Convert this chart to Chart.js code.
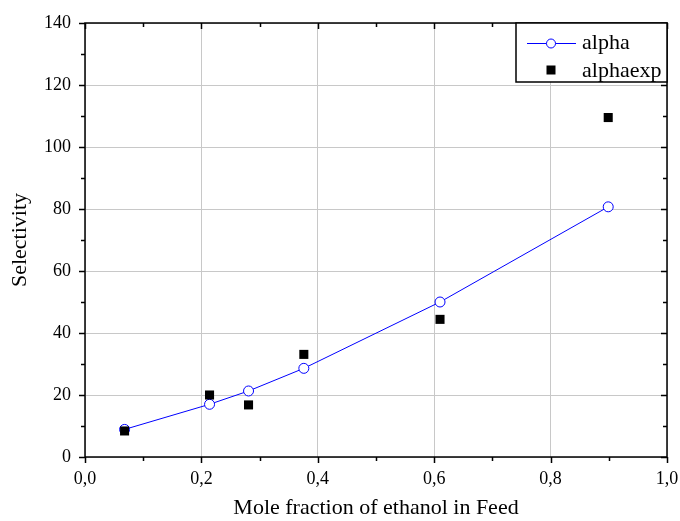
<!DOCTYPE html>
<html>
<head>
<meta charset="utf-8">
<script src="https://cdn.jsdelivr.net/npm/chart.js@4"></script>
<style>
  html, body { margin: 0; padding: 0; background: #fff; }
  #wrap { width: 680px; height: 521px; }
</style>
</head>
<body>
<div id="wrap"><canvas id="selChart" width="680" height="521"></canvas></div>
<script>
// Data
const feedFraction = [0.068, 0.214, 0.281, 0.376, 0.610, 0.899];
const alphaCalc = [8.9, 17.0, 21.3, 28.6, 50.0, 80.7];
const alphaExp = [8.4, 20.0, 16.8, 33.1, 44.4, 109.5];
const xTicks = [0, 0.2, 0.4, 0.6, 0.8, 1.0];
const yTicks = [0, 20, 40, 60, 80, 100, 120, 140];

const FONT = '"Liberation Serif", "Times New Roman", serif';

// Frame, ticks (major + minor) and axis titles, Origin style
const framePlugin = {
    id: 'frame',
    afterDraw(chart) {
        const ctx = chart.ctx;
        const a = chart.chartArea;
        const xs = chart.scales.x, ys = chart.scales.y;
        ctx.save();
        ctx.strokeStyle = '#000';
        ctx.lineWidth = 1.5;
        ctx.strokeRect(a.left, a.top, a.right - a.left, a.bottom - a.top);
        ctx.beginPath();
        for (let v = 0; v <= 1.0001; v += 0.1) {
            const px = Math.round(xs.getPixelForValue(v)) + 0.5;
            const major = Math.round(v * 10) % 2 === 0;
            const len = major ? 6 : 4;
            ctx.moveTo(px, a.bottom); ctx.lineTo(px, a.bottom + len);
            ctx.moveTo(px, a.top); ctx.lineTo(px, a.top + len);
        }
        for (let v = 0; v <= 140; v += 10) {
            const py = Math.round(ys.getPixelForValue(v)) + 0.5;
            const major = v % 20 === 0;
            const len = major ? 6 : 4;
            ctx.moveTo(a.left, py); ctx.lineTo(a.left - len, py);
            ctx.moveTo(a.right, py); ctx.lineTo(a.right - len, py);
        }
        ctx.stroke();

        // axis titles
        ctx.fillStyle = '#000';
        ctx.font = '22px ' + FONT;
        ctx.textAlign = 'center';
        ctx.textBaseline = 'middle';
        ctx.fillText('Mole fraction of ethanol in Feed', (a.left + a.right) / 2, 508);
        ctx.translate(20, (a.top + a.bottom) / 2);
        ctx.rotate(-Math.PI / 2);
        ctx.fillText('Selectivity', 0, 0);
        ctx.restore();
    }
};

// Boxed legend in the top right corner
const legendPlugin = {
    id: 'boxLegend',
    afterDraw(chart) {
        const ctx = chart.ctx;
        const a = chart.chartArea;
        const left = 516, top = a.top, right = a.right, bottom = 82;
        ctx.save();
        ctx.fillStyle = '#fff';
        ctx.fillRect(left, top, right - left, bottom - top);
        ctx.strokeStyle = '#000';
        ctx.lineWidth = 1.5;
        ctx.strokeRect(left, top, right - left, bottom - top);

        const sx = 551, y1 = 43, y2 = 70;
        ctx.strokeStyle = '#0000ff';
        ctx.lineWidth = 1;
        ctx.beginPath();
        ctx.moveTo(527, y1 + 0.5); ctx.lineTo(576, y1 + 0.5);
        ctx.stroke();
        ctx.fillStyle = '#fff';
        ctx.beginPath();
        ctx.arc(sx, y1 + 0.5, 4.5, 0, Math.PI * 2);
        ctx.fill(); ctx.stroke();

        ctx.fillStyle = '#000';
        ctx.fillRect(sx - 4.5, y2 - 4.5, 9, 9);

        ctx.font = '22px ' + FONT;
        ctx.textAlign = 'left';
        ctx.textBaseline = 'middle';
        ctx.fillText('alpha', 582, y1);
        ctx.fillText('alphaexp', 582, y2 + 1);
        ctx.restore();
    }
};

const ctx = document.getElementById('selChart');
new Chart(ctx, {
    type: 'scatter',
    data: {
        datasets: [{
            label: 'alpha',
            order: 2,
            data: feedFraction.map((x, i) => ({ x: x, y: alphaCalc[i] })),
            showLine: true,
            borderColor: '#0000ff',
            borderWidth: 1,
            pointStyle: 'circle',
            pointRadius: 5,
            pointBorderWidth: 1,
            pointBackgroundColor: '#ffffff',
            pointBorderColor: '#0000ff'
        }, {
            label: 'alphaexp',
            order: 1,
            data: feedFraction.map((x, i) => ({ x: x, y: alphaExp[i] })),
            showLine: false,
            pointStyle: 'rect',
            pointRadius: 6.4,
            pointBorderWidth: 0,
            pointBackgroundColor: '#000000',
            pointBorderColor: '#000000'
        }]
    },
    options: {
        responsive: false,
        animation: false,
        layout: { padding: { top: 23, right: 13, left: 0, bottom: 0 } },
        plugins: {
            legend: { display: false },
            tooltip: { enabled: false }
        },
        scales: {
            x: {
                type: 'linear',
                min: 0, max: 1,
                afterBuildTicks: (s) => { s.ticks = xTicks.map(v => ({ value: v })); },
                afterFit: (s) => { s.height = 64; s.paddingLeft = 0; s.paddingRight = 0; },
                ticks: {
                    color: '#000',
                    font: { family: FONT, size: 18 },
                    padding: 11,
                    callback: (v) => v.toFixed(1).replace('.', ',')
                },
                grid: { color: '#c8c8c8', lineWidth: 1, drawTicks: false },
                border: { display: false }
            },
            y: {
                type: 'linear',
                min: 0, max: 140,
                afterBuildTicks: (s) => { s.ticks = yTicks.map(v => ({ value: v })); },
                afterFit: (s) => { s.width = 85; s.paddingTop = 0; s.paddingBottom = 0; },
                ticks: {
                    color: '#000',
                    font: { family: FONT, size: 18 },
                    padding: 14
                },
                grid: { color: '#c8c8c8', lineWidth: 1, drawTicks: false },
                border: { display: false }
            }
        }
    },
    plugins: [framePlugin, legendPlugin]
});
</script>
</body>
</html>
